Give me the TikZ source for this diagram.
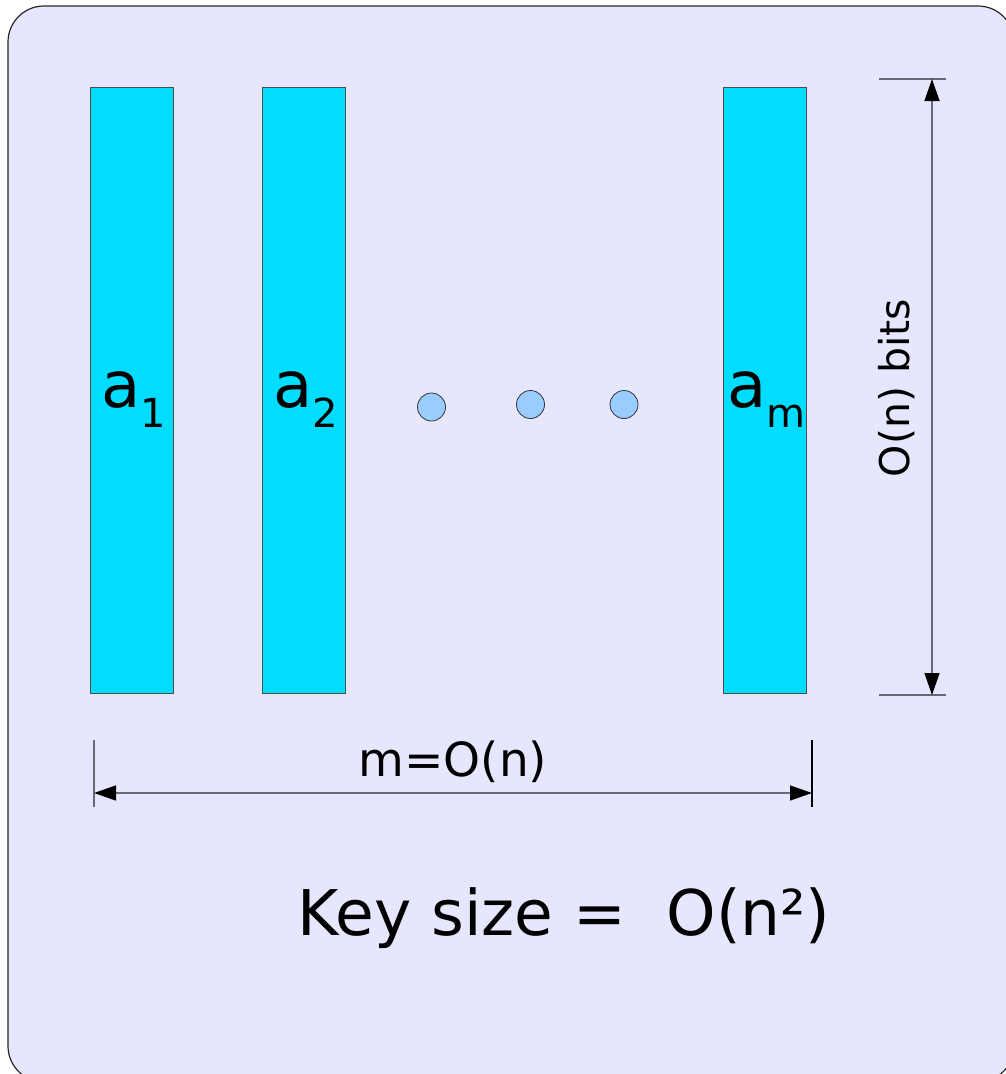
\documentclass[tikz,border=0pt]{standalone}
\usepackage{fontspec}
\setmainfont{DejaVu Sans}
\usetikzlibrary{arrows.meta}
\definecolor{bgc}{RGB}{230,230,255}
\definecolor{barc}{RGB}{0,221,255}
\definecolor{dotc}{RGB}{153,204,255}
\definecolor{dimc}{RGB}{105,105,118}
\newcommand\barlab[1]{{\fontsize{64}{64}\selectfont a}\raisebox{-20pt}{\fontsize{40}{40}\selectfont #1}}
\begin{document}
\begin{tikzpicture}[x=1pt,y=-1pt,
  keybar/.style={draw=black!70,line width=0.8pt,fill=barc},
  dotnode/.style={circle,draw=black!80,line width=0.8pt,fill=dotc,minimum size=28pt,inner sep=0pt},
  dimline/.style={draw=dimc,line width=1.4pt,{Triangle[length=22pt,width=15pt,fill=black,color=black]}-{Triangle[length=22pt,width=15pt,fill=black,color=black]}},
  extline/.style={draw=dimc,line width=1.3pt},
  lab/.style={inner sep=0pt,anchor=base west},
  dimtext/.style={inner sep=0pt,font=\fontsize{41}{41}\selectfont}]
\useasboundingbox (0,0) rectangle (1005,1074);
\draw[fill=bgc,draw=black!85,line width=1.2pt,rounded corners=36pt] (8,6) rectangle (1014,1082);
% bars
\draw[keybar] (90,87) rectangle (173,693);
\draw[keybar] (262,87) rectangle (345,693);
\draw[keybar] (723,87) rectangle (806,693);
\node[lab] (l1) at (101,407) {\barlab{1}};
\node[lab] (l2) at (273,407) {\barlab{2}};
\node[lab] (lm) at (727,407) {\barlab{m}};
% dots
\node[dotnode] (d1) at (431.5,407) {};
\node[dotnode] (d2) at (530.5,404.5) {};
\node[dotnode] (d3) at (624,404.5) {};
% vertical dimension
\coordinate (vt) at (932,79);
\coordinate (vb) at (932,695);
\draw[extline] (879,79) -- (946,79);
\draw[extline] (879,695) -- (946,695);
\draw[dimline] (vt) -- (vb);
\node[dimtext,rotate=90] (vlab) at (897,388) {O(n) bits};
% horizontal dimension
\coordinate (hl) at (94,793);
\coordinate (hr) at (812,793);
\draw[extline] (94,740) -- (94,807);
\draw[extline,draw=black] (812,740) -- (812,807);
\draw[dimline] (hl) -- (hr);
\node[dimtext,anchor=base,font=\fontsize{47}{47}\selectfont] (hlab) at (453,776) {m=O(n)};
% key size
\node[lab,font=\fontsize{63}{63}\selectfont] (key) at (297,935) {Key size =\ \ O(n²)};
\end{tikzpicture}
\end{document}
